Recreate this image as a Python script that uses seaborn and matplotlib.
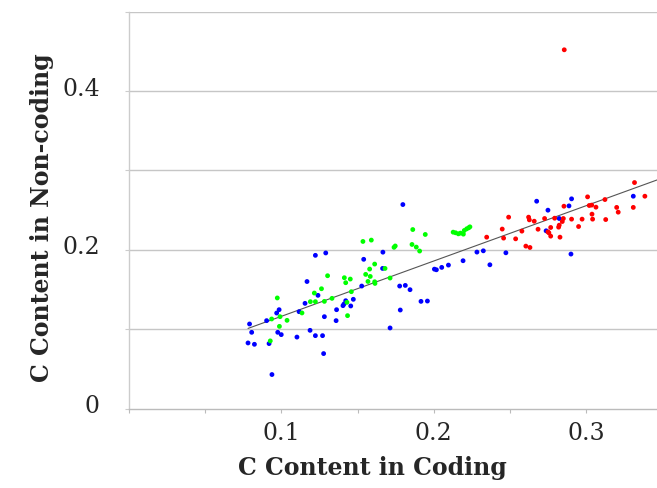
import numpy as np
import pandas as pd
import matplotlib
matplotlib.use("Agg")
import matplotlib.pyplot as plt
import matplotlib.transforms as mtransforms
import seaborn as sns

# ---- data ----
blue_x = [0.1797, 0.1223, 0.1291, 0.1540, 0.1666, 0.1664, 0.1168, 0.1240, 0.1155, 0.1527,
          0.1116, 0.0985, 0.0969, 0.0903, 0.0791, 0.0805, 0.0781, 0.0823, 0.0919, 0.0976,
          0.0999, 0.0938, 0.1102, 0.1188, 0.1223, 0.1270, 0.1277, 0.1282, 0.1359, 0.1362,
          0.1404, 0.1411, 0.1422, 0.1455, 0.1472, 0.1713, 0.1780, 0.1776, 0.1813, 0.1844,
          0.1916, 0.1958, 0.2004, 0.2017, 0.2052, 0.2096, 0.2675, 0.2904, 0.2887, 0.2749,
          0.2823, 0.2737, 0.3309, 0.2900, 0.2473, 0.2368, 0.2283, 0.2325, 0.2192]
blue_y = [0.257, 0.193, 0.196, 0.188, 0.197, 0.1765, 0.160, 0.1426, 0.1325, 0.1543,
          0.122, 0.1245, 0.1203, 0.1107, 0.1065, 0.096, 0.0826, 0.0809, 0.0818, 0.096,
          0.0931, 0.0428, 0.090, 0.0985, 0.0918, 0.0918, 0.0692, 0.1157, 0.1107, 0.1245,
          0.1296, 0.1317, 0.1358, 0.1292, 0.1376, 0.1015, 0.1241, 0.1543, 0.1551, 0.1497,
          0.135, 0.1354, 0.1756, 0.1748, 0.1778, 0.1807, 0.2612, 0.2642, 0.2553, 0.2499,
          0.2394, 0.2239, 0.2675, 0.1946, 0.1962, 0.1811, 0.1971, 0.1987, 0.1862]

green_x = [0.1862, 0.1944, 0.1857, 0.1885, 0.1907, 0.1739, 0.1747, 0.1535, 0.1590, 0.1612,
           0.1579, 0.1553, 0.1583, 0.1568, 0.1612, 0.1614, 0.1680, 0.1713, 0.1413, 0.1452,
           0.1422, 0.1459, 0.1303, 0.1263, 0.1216, 0.1190, 0.1223, 0.1282, 0.1332, 0.1430,
           0.1434, 0.1135, 0.0973, 0.0991, 0.1037, 0.0936, 0.0987, 0.0927, 0.2127, 0.2143,
           0.2161, 0.2175, 0.2194, 0.2200, 0.2216, 0.2229, 0.2237]
green_y = [0.2255, 0.2193, 0.2067, 0.2034, 0.1984, 0.2031, 0.2048, 0.2105, 0.2122, 0.1820,
           0.1757, 0.1690, 0.1664, 0.1601, 0.1597, 0.1576, 0.1765, 0.1644, 0.1648, 0.1631,
           0.1585, 0.1472, 0.1673, 0.1509, 0.1455, 0.1346, 0.1346, 0.1350, 0.1388, 0.1338,
           0.117, 0.1204, 0.1393, 0.1157, 0.1111, 0.1128, 0.1035, 0.0852, 0.2222, 0.2214,
           0.2201, 0.2210, 0.2197, 0.2243, 0.2264, 0.2277, 0.2289]

red_x = [0.3317, 0.3385, 0.3309, 0.3200, 0.3210, 0.3128, 0.3123, 0.3009, 0.3020, 0.3036,
         0.3064, 0.3038, 0.3042, 0.2973, 0.2950, 0.2904, 0.2854, 0.2850, 0.2843, 0.2823,
         0.2819, 0.2828, 0.2793, 0.2727, 0.2767, 0.2749, 0.2755, 0.2767, 0.2684, 0.2659,
         0.2622, 0.2627, 0.2578, 0.2537, 0.2604, 0.2631, 0.2491, 0.2449, 0.2458, 0.2347,
         0.2856]
red_y = [0.2847, 0.2675, 0.2534, 0.2534, 0.2474, 0.2381, 0.2633, 0.2667, 0.2558, 0.2563,
         0.2537, 0.2449, 0.2386, 0.2386, 0.2293, 0.2386, 0.2549, 0.2394, 0.2356, 0.2310,
         0.2285, 0.2159, 0.2398, 0.2394, 0.2281, 0.2226, 0.2214, 0.2172, 0.2259, 0.2360,
         0.2411, 0.2377, 0.2235, 0.2138, 0.2046, 0.2029, 0.2411, 0.2261, 0.2147, 0.2159,
         0.452]

x_ticks = [0.1, 0.2, 0.3]
x_ticklabels = ["0.1", "0.2", "0.3"]
y_ticks = [0, 0.2, 0.4]
y_ticklabels = ["0", "0.2", "0.4"]
x_title = "C Content in Coding"
y_title = "C Content in Non-coding"

df = pd.DataFrame({
    "coding": blue_x + green_x + red_x,
    "noncoding": blue_y + green_y + red_y,
    "group": ["blue"] * len(blue_x) + ["green"] * len(green_x) + ["red"] * len(red_x),
})

sns.set_theme(style="white")
plt.rcParams["font.family"] = ["DejaVu Serif"]

fig = plt.figure(figsize=(6.57, 4.89), dpi=100)
ax = fig.add_axes([129 / 657, 1 - 409.5 / 489, 528 / 657, 396.8 / 489])

XMAX = 528 / 1524
ax.set_xlim(0, XMAX)
ax.set_ylim(0, 0.5)

# grid lines
ax.grid(False)
for gy in np.arange(0.1, 0.51, 0.1):
    ax.axhline(gy, color="#c6c6c6", lw=1.0, zorder=0)

sns.scatterplot(data=df, x="coding", y="noncoding", hue="group",
                palette={"blue": "#0000ff", "green": "#00ff00", "red": "#ff0000"},
                s=12, linewidth=0, legend=False, ax=ax, zorder=3)

# trend line fitted to all points
allx = np.array(df["coding"])
ally = np.array(df["noncoding"])
slope, icpt = np.polyfit(allx, ally, 1)
xx = np.array([allx.min(), XMAX])
ax.plot(xx, slope * xx + icpt, color="#555555", lw=0.8, zorder=2)

# axes styling
for s in ["top", "right"]:
    ax.spines[s].set_visible(False)
ax.spines["left"].set_color("#cccccc")
ax.spines["bottom"].set_color("#bbbbbb")
ax.spines["left"].set_linewidth(1.0)
ax.spines["bottom"].set_linewidth(1.0)

ax.set_xticks(np.arange(0, XMAX, 0.05), minor=True)
ax.set_xticks(x_ticks)
ax.set_xticklabels(x_ticklabels, fontsize=17)
ax.set_yticks(np.arange(0, 0.51, 0.1), minor=True)
ax.set_yticks(y_ticks)
ax.set_yticklabels(y_ticklabels, fontsize=17)
ax.tick_params(axis="x", which="both", direction="out", length=3, width=0.8,
               color="#bbbbbb", bottom=True, pad=6)
ax.tick_params(axis="y", which="both", direction="out", length=3, width=0.8,
               color="#cccccc", left=True, pad=18)

# y tick labels sit slightly above their grid lines
offset = mtransforms.ScaledTranslation(0, 4 / 72, fig.dpi_scale_trans)
for lab in ax.get_yticklabels():
    lab.set_transform(lab.get_transform() + offset)

ax.set_xlabel(x_title, fontsize=17, fontweight="bold")
ax.set_ylabel(y_title, fontsize=17, fontweight="bold")
ax.xaxis.set_label_coords((372 - 129) / 528, (409.5 - 468) / 396.8)
ax.xaxis.label.set_va("center")
ax.yaxis.set_label_coords((42 - 129) / 528, (409.5 - 218) / 396.8)
ax.yaxis.label.set_va("center")

fig.savefig("out.png", dpi=100)
